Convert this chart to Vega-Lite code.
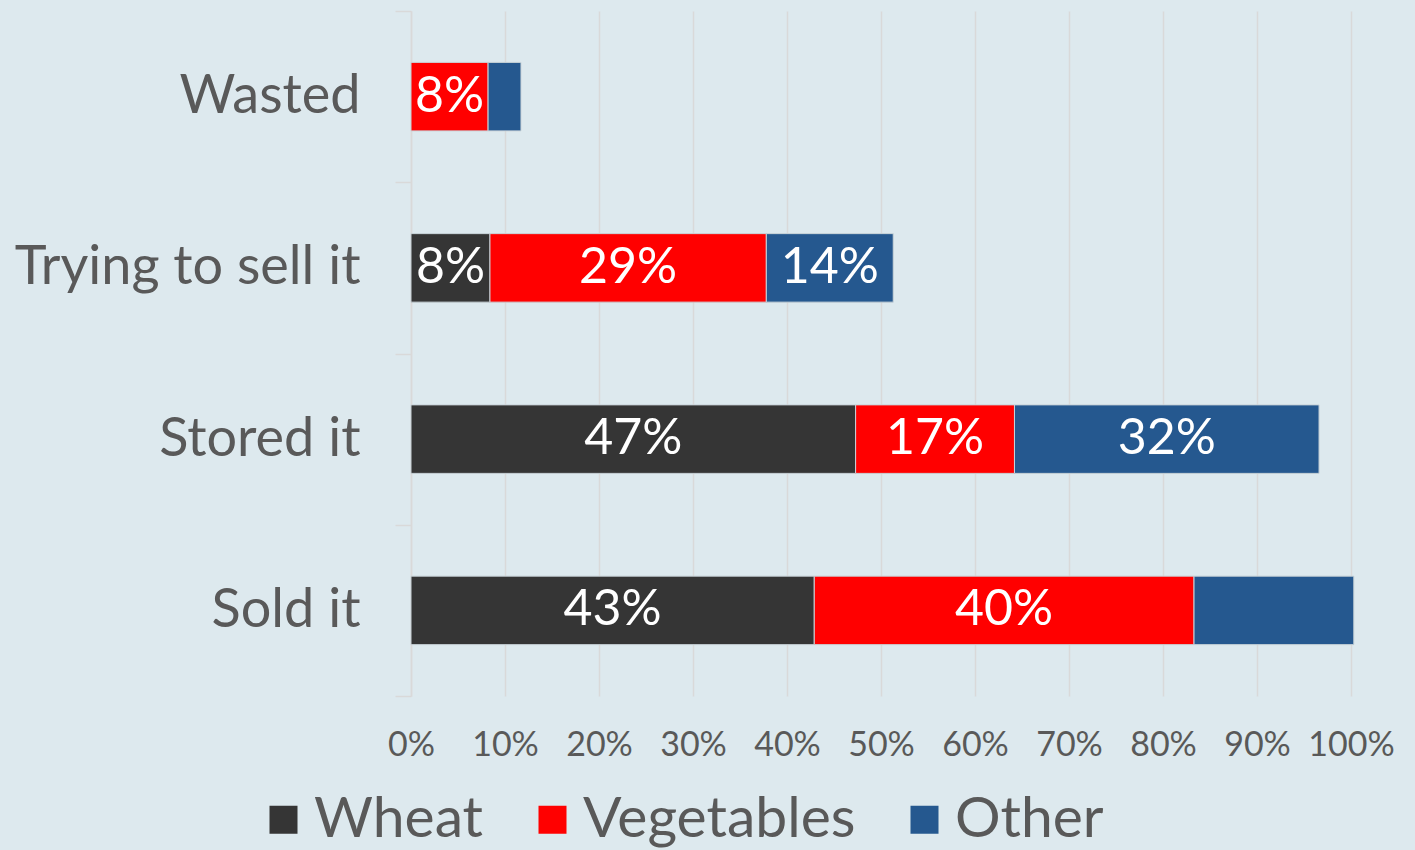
{
  "$schema": "https://vega.github.io/schema/vega-lite/v6.json",
  "width": 940,
  "height": 685,
  "autosize": {"type": "none"},
  "padding": {"left": 411, "top": 11, "right": 64, "bottom": 154},
  "background": "#dde9ee",
  "config": {
    "view": {"stroke": null},
    "font": "Lato"
  },
  "data": {
    "values": [
      {"category": "Wasted", "crop": "Vegetables", "idx": 2, "value": 0.082, "label": "8%"},
      {"category": "Wasted", "crop": "Other", "idx": 3, "value": 0.035, "label": ""},
      {"category": "Trying to sell it", "crop": "Wheat", "idx": 1, "value": 0.084, "label": "8%"},
      {"category": "Trying to sell it", "crop": "Vegetables", "idx": 2, "value": 0.294, "label": "29%"},
      {"category": "Trying to sell it", "crop": "Other", "idx": 3, "value": 0.135, "label": "14%"},
      {"category": "Stored it", "crop": "Wheat", "idx": 1, "value": 0.473, "label": "47%"},
      {"category": "Stored it", "crop": "Vegetables", "idx": 2, "value": 0.169, "label": "17%"},
      {"category": "Stored it", "crop": "Other", "idx": 3, "value": 0.324, "label": "32%"},
      {"category": "Sold it", "crop": "Wheat", "idx": 1, "value": 0.429, "label": "43%"},
      {"category": "Sold it", "crop": "Vegetables", "idx": 2, "value": 0.404, "label": "40%"},
      {"category": "Sold it", "crop": "Other", "idx": 3, "value": 0.17, "label": ""}
    ]
  },
  "encoding": {
    "y": {
      "field": "category",
      "type": "nominal",
      "sort": ["Wasted", "Trying to sell it", "Stored it", "Sold it"],
      "scale": {"paddingInner": 0, "paddingOuter": 0},
      "axis": {
        "title": null,
        "domainColor": "#d9d9d9",
        "domainWidth": 1.5,
        "tickColor": "#d9d9d9",
        "tickWidth": 1.5,
        "tickSize": 16,
        "tickBand": "extent",
        "labelFontSize": 54,
        "labelColor": "#595959",
        "labelPadding": 35,
        "labelLimit": 500
      }
    },
    "x": {
      "field": "value",
      "type": "quantitative",
      "stack": "zero",
      "scale": {"domain": [0, 1], "nice": false},
      "axis": {
        "title": null,
        "format": ".0%",
        "values": [0, 0.1, 0.2, 0.3, 0.4, 0.5, 0.6, 0.7, 0.8, 0.9, 1],
        "domain": false,
        "ticks": false,
        "grid": true,
        "gridColor": "#d9d9d9",
        "gridWidth": 1.5,
        "labelFontSize": 34,
        "labelColor": "#595959",
        "labelPadding": 32,
        "labelBaseline": "top",
        "labelFlush": false,
        "labelOverlap": false,
        "labelBound": false
      }
    },
    "order": {"field": "idx", "type": "quantitative"}
  },
  "layer": [
    {
      "mark": {"type": "bar", "height": {"band": 0.4}, "stroke": "#c9d3d8", "strokeWidth": 1},
      "encoding": {
        "color": {
          "field": "crop",
          "type": "nominal",
          "scale": {"domain": ["Wheat", "Vegetables", "Other"], "range": ["#353535", "#ff0000", "#25588f"]},
          "legend": {
            "title": null,
            "orient": "none",
            "direction": "horizontal",
            "legendX": -156,
            "legendY": 780,
            "symbolType": "square",
            "symbolSize": 784,
            "symbolStrokeWidth": 0,
            "labelFontSize": 57,
            "labelColor": "#595959",
            "labelOffset": 2,
            "columnPadding": 40,
            "labelLimit": 400
          }
        }
      }
    },
    {
      "mark": {"type": "text", "color": "white", "fontSize": 50, "baseline": "middle", "align": "center"},
      "encoding": {
        "x": {"field": "value", "type": "quantitative", "stack": "zero", "bandPosition": 0.5},
        "text": {"field": "label", "type": "nominal"}
      }
    }
  ]
}
